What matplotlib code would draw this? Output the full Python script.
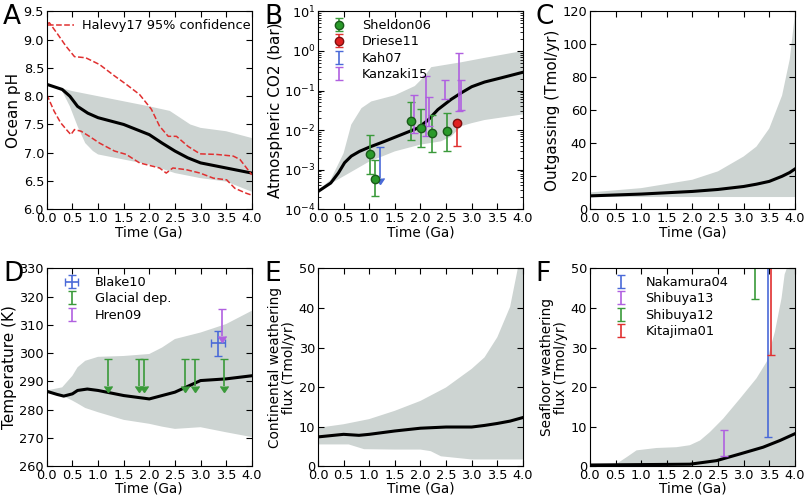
import numpy as np
import matplotlib
matplotlib.use("Agg")
import matplotlib.pyplot as plt

# --- data ---
# A: ocean pH
t_ph = [0.0, 0.3, 0.45, 0.6, 0.8, 1.0, 1.5, 2.0, 2.25, 2.5, 2.75, 3.0, 3.5, 4.0]
ph_med = [8.21, 8.12, 8.0, 7.82, 7.7, 7.62, 7.5, 7.32, 7.17, 7.03, 6.91, 6.82, 6.73, 6.64]
t_ph_up = [0.0, 0.5, 1.0, 1.5, 2.0, 2.4, 2.6, 2.8, 3.0, 3.5, 4.0]
ph_hi = [8.21, 8.09, 8.0, 7.91, 7.82, 7.74, 7.62, 7.5, 7.44, 7.38, 7.26]
t_ph_lo = [0.0, 0.3, 0.45, 0.6, 0.75, 0.9, 1.0, 1.5, 2.0, 2.5, 3.0, 3.5, 4.0]
ph_lo = [8.21, 8.09, 7.82, 7.47, 7.17, 7.03, 6.97, 6.88, 6.79, 6.64, 6.55, 6.49, 6.31]
hal_t_up = [0.0, 0.05, 0.21, 0.37, 0.54, 0.76, 1.03, 1.32, 1.55, 1.81, 2.04, 2.2, 2.37, 2.53,
            2.76, 2.99, 3.31, 3.64, 3.77, 4.0]
hal_up = [9.28, 9.3, 9.1, 8.89, 8.7, 8.68, 8.56, 8.36, 8.21, 8.03, 7.77, 7.47, 7.29, 7.29,
          7.11, 6.98, 6.97, 6.94, 6.88, 6.61]
hal_t_lo = [0.0, 0.14, 0.27, 0.41, 0.47, 0.54, 0.67, 0.83, 1.03, 1.32, 1.55, 1.81, 2.07, 2.2,
            2.33, 2.46, 2.72, 2.99, 3.25, 3.51, 3.67, 3.9, 4.0]
hal_lo = [8.03, 7.74, 7.53, 7.38, 7.32, 7.41, 7.38, 7.29, 7.17, 7.03, 6.97, 6.82, 6.76, 6.73,
          6.64, 6.73, 6.7, 6.64, 6.55, 6.52, 6.37, 6.28, 6.25]

# B: atmospheric CO2
t_co2 = [0.0, 0.25, 0.4, 0.52, 0.65, 0.81, 1.0, 1.3, 1.63, 1.95, 2.15, 2.34, 2.6, 2.8, 3.0,
         3.25, 3.58, 4.0]
co2_med = [2.8e-4, 4.6e-4, 8.3e-4, 1.5e-3, 2.2e-3, 2.9e-3, 3.7e-3, 5.2e-3, 7.7e-3, 1.13e-2,
           1.8e-2, 3.3e-2, 6e-2, 8.8e-2, 1.25e-1, 1.64e-1, 2.1e-1, 2.9e-1]
t_co2_up = [0.0, 0.25, 0.5, 0.65, 0.85, 1.04, 1.5, 1.89, 2.08, 2.21, 2.8, 3.25, 4.0]
co2_hi = [3e-4, 5.6e-4, 2.6e-3, 1.38e-2, 3.6e-2, 5.3e-2, 7.6e-2, 1.3e-1, 2.3e-1, 3.9e-1,
          5.2e-1, 6.7e-1, 1.0]
t_co2_lo = [0.0, 0.5, 1.0, 1.5, 2.0, 2.4, 2.6, 2.8, 3.0, 3.25, 4.0]
co2_lo = [2.9e-4, 6.8e-4, 1.6e-3, 2.9e-3, 4.3e-3, 5.2e-3, 6.9e-3, 1.26e-2, 1.5e-2, 1.8e-2, 2.5e-2]
sh_t = [1.01, 1.12, 1.82, 2.02, 2.22, 2.52]
sh_v = [2.5e-3, 5.9e-4, 1.67e-2, 1.14e-2, 8.5e-3, 9.5e-3]
sh_lo = [8e-4, 2.1e-4, 5.6e-3, 3.7e-3, 2.8e-3, 2.95e-3]
sh_hi = [7.6e-3, 1.75e-3, 5.2e-2, 3.5e-2, 2.45e-2, 2.7e-2]
dr_t = [2.71]
dr_v = [1.52e-2]
dr_lo = [3.9e-3]
dr_hi = [1.7e-2]
kah_t = [1.22]
kah_hi = [3.7e-3]
kah_lo = [6.2e-4]
kz_t = [1.87, 2.1, 2.17, 2.47, 2.76, 2.8]
kz_lo = [8.5e-3, 7.2e-3, 1.25e-2, 6e-2, 3e-2, 3.3e-2]
kz_hi = [7.7e-2, 2.3e-1, 6.8e-2, 1.8e-1, 9e-1, 1.8e-1]

# C: outgassing
t_out = [0.0, 1.0, 2.0, 2.5, 3.0, 3.25, 3.5, 3.75, 3.9, 4.0]
out_med = [8.1, 9.2, 10.8, 12.0, 13.8, 15.2, 16.9, 20.0, 22.3, 24.4]
out_hi = [10.2, 12.8, 17.9, 23.0, 32.0, 38.0, 49.0, 69.0, 91.0, 118.0]
out_lo = [7.4, 7.4, 7.4, 7.4, 7.4, 7.4, 7.4, 7.4, 7.4, 7.4]

# D: temperature
t_temp = [0.0, 0.2, 0.33, 0.5, 0.6, 0.79, 1.0, 1.5, 2.0, 2.5, 3.0, 3.5, 4.0]
temp_med = [286.5, 285.4, 284.8, 285.6, 286.8, 287.3, 286.8, 285.0, 283.8, 286.2, 290.3, 290.9, 292.0]
t_temp_band = [0.0, 0.3, 0.5, 0.6, 0.75, 1.0, 1.5, 2.0, 2.25, 2.5, 3.0, 3.5, 4.0]
temp_hi = [286.8, 287.9, 292.0, 295.0, 297.3, 298.7, 299.0, 299.7, 302.0, 305.0, 307.3, 310.3, 315.0]
temp_lo = [286.2, 285.0, 283.2, 282.2, 280.6, 279.1, 276.4, 275.0, 274.0, 273.2, 273.8, 272.0, 270.3]
bl_t = [3.34]
bl_v = [303.5]
bl_xerr = [0.14]
bl_lo = [299]
bl_hi = [308]
gl_t = [1.2, 1.8, 1.9, 2.7, 2.9, 3.45]
gl_hi = [298, 298, 298, 298, 298, 298]
gl_lo = [288.5, 288.5, 288.5, 288.5, 288.5, 288.5]
hr_t = [3.42]
hr_hi = [315.5]
hr_lo = [306]

# E: continental weathering
t_cw = [0.0, 0.5, 0.8, 1.0, 1.5, 2.0, 2.5, 3.0, 3.25, 3.5, 3.75, 4.0]
cw_med = [7.4, 8.05, 7.8, 8.05, 8.9, 9.6, 9.9, 9.9, 10.3, 10.8, 11.4, 12.3]
t_cw_up = [0.0, 0.5, 1.0, 1.5, 2.0, 2.5, 3.0, 3.25, 3.5, 3.75, 3.9, 4.0]
cw_hi = [9.7, 10.6, 11.9, 14.0, 16.5, 19.9, 24.6, 27.5, 32.6, 40.3, 50.0, 58.0]
t_cw_lo = [0.0, 0.6, 0.9, 1.5, 2.0, 2.2, 2.4, 2.7, 3.0, 4.0]
cw_lo = [5.5, 5.5, 4.3, 4.2, 4.2, 3.8, 2.5, 2.1, 1.7, 1.7]

# F: seafloor weathering
t_sf = [0.0, 0.5, 1.0, 1.5, 1.95, 2.47, 2.93, 3.38, 3.71, 4.0]
sf_med = [0.3, 0.35, 0.4, 0.45, 0.5, 1.4, 3.1, 4.8, 6.5, 8.2]
t_sf_up = [0.0, 0.52, 0.72, 0.91, 1.3, 1.69, 1.95, 2.15, 2.34, 2.6, 2.93, 3.25, 3.45, 3.61,
           3.74, 3.8, 3.9, 4.0]
sf_hi = [0.3, 0.6, 2.3, 4.0, 4.6, 4.8, 5.3, 6.5, 8.6, 12.0, 17.1, 22.2, 26.4, 34.0, 42.5,
         48.5, 52.0, 60.0]
t_sf_lo = [0.0, 4.0]
sf_lo = [0.1, 0.1]
nk_t, nk_lo, nk_hi = [3.48], [7.5], [60.0]
s13_t, s13_lo, s13_hi = [2.62], [2.5], [9.1]
s12_t, s12_lo, s12_hi = [3.22], [42.3], [60.0]
kj_t, kj_lo, kj_hi = [3.53], [28.1], [60.0]

band_c = "#cdd4d2"
green = "#3a9a3a"
red = "#e03030"
blue = "#4a6ad8"
purple = "#b060e0"

plt.rcParams["font.family"] = "DejaVu Sans"

fig = plt.figure(figsize=(8.07, 4.97), dpi=100)
W = 0.254
H = 0.398
lefts = [0.058, 0.394, 0.731]
bots = [0.579, 0.062]
axs = []
for b in bots:
    for l in lefts:
        axs.append(fig.add_axes([l, b, W, H]))


def style(ax):
    ax.set_xlim(0, 4)
    ax.set_xticks(np.arange(0, 4.01, 0.5))
    ax.tick_params(direction="in", top=True, right=True, length=4, labelsize=9.3, pad=2)
    ax.tick_params(which="minor", direction="in", top=True, right=True, length=2)
    ax.set_xlabel("Time (Ga)", fontsize=9.8, labelpad=0)


def band(ax, t_up, hi, t_lo, lo):
    xs = list(t_up) + list(t_lo)[::-1]
    ys = list(hi) + list(lo)[::-1]
    ax.fill(xs, ys, color=band_c, lw=0)


def asym(v, lo, hi):
    v = np.array(v)
    return [v - np.array(lo), np.array(hi) - v]


def mid(lo, hi):
    return list((np.array(lo) + np.array(hi)) / 2.0)


def limit_bars(ax, t, lo, hi, c, lab):
    # upper-limit bars: cap on top, arrow head at bottom
    ax.errorbar(t, hi, yerr=np.array(hi) - np.array(lo), uplims=True, fmt="none",
                color=c, capsize=3, elinewidth=1.2)
    # legend proxy drawn as a plain bar with caps
    ax.errorbar([np.nan], [np.nan], yerr=[1], fmt="none", color=c, capsize=3,
                elinewidth=1.2, label=lab)


leg_kw = dict(frameon=False, fontsize=9.3, borderaxespad=0.2, labelspacing=0.25)

# A
ax = axs[0]
band(ax, t_ph_up, ph_hi, t_ph_lo, ph_lo)
ax.plot(t_ph, ph_med, "k-", lw=2.2)
ax.plot(hal_t_up, hal_up, "--", color=red, lw=1.1, label="Halevy17 95% confidence")
ax.plot(hal_t_lo, hal_lo, "--", color=red, lw=1.1)
ax.set_ylim(6.0, 9.5)
ax.set_ylabel("Ocean pH", fontsize=11, labelpad=2)
style(ax)
ax.legend(loc="upper left", handlelength=2.0, handletextpad=0.6,
          bbox_to_anchor=(-0.03, 1.0), **leg_kw)

# B
ax = axs[1]
band(ax, t_co2_up, co2_hi, t_co2_lo, co2_lo)
ax.plot(t_co2, co2_med, "k-", lw=2.2)
ax.errorbar(sh_t, sh_v, yerr=asym(sh_v, sh_lo, sh_hi), fmt="o", color=green, mfc="#2a9a2a",
            mec="#1a5a1a", ms=6, capsize=3, elinewidth=1.2, label="Sheldon06")
ax.errorbar(dr_t, dr_v, yerr=asym(dr_v, dr_lo, dr_hi), fmt="o", color=red, mfc="#e02020",
            mec="#801010", ms=6, capsize=3, elinewidth=1.2, label="Driese11")
limit_bars(ax, kah_t, kah_lo, kah_hi, blue, "Kah07")
kz_mid = np.sqrt(np.array(kz_lo) * np.array(kz_hi))
ax.errorbar(kz_t, kz_mid, yerr=asym(kz_mid, kz_lo, kz_hi), fmt="none", color=purple,
            capsize=3, elinewidth=1.2, label="Kanzaki15")
ax.set_yscale("log")
ax.set_ylim(1e-4, 10)
ax.set_ylabel("Atmospheric CO2 (bar)", fontsize=11, labelpad=1)
style(ax)
ax.legend(loc="upper left", numpoints=1, handletextpad=0.8, **leg_kw)

# C
ax = axs[2]
band(ax, t_out, out_hi, t_out, out_lo)
ax.plot(t_out, out_med, "k-", lw=2.2)
ax.set_ylim(0, 120)
ax.set_ylabel("Outgassing (Tmol/yr)", fontsize=11, labelpad=2)
style(ax)

# D
ax = axs[3]
band(ax, t_temp_band, temp_hi, t_temp_band, temp_lo)
ax.plot(t_temp, temp_med, "k-", lw=2.2)
ax.errorbar(bl_t, bl_v, xerr=bl_xerr, yerr=asym(bl_v, bl_lo, bl_hi), fmt="none",
            color=blue, capsize=3, elinewidth=1.2, label="Blake10")
limit_bars(ax, gl_t, gl_lo, gl_hi, green, "Glacial dep.")
limit_bars(ax, hr_t, hr_lo, hr_hi, purple, "Hren09")
ax.set_ylim(260, 330)
ax.set_ylabel("Temperature (K)", fontsize=11, labelpad=2)
style(ax)
ax.legend(loc="upper left", handletextpad=0.8, bbox_to_anchor=(0.02, 1.0), **leg_kw)

# E
ax = axs[4]
band(ax, t_cw_up, cw_hi, t_cw_lo, cw_lo)
ax.plot(t_cw, cw_med, "k-", lw=2.2)
ax.set_ylim(0, 50)
ax.set_ylabel("Continental weathering\nflux (Tmol/yr)", fontsize=9.8, linespacing=0.95,
              labelpad=2)
style(ax)

# F
ax = axs[5]
band(ax, t_sf_up, sf_hi, t_sf_lo, sf_lo)
ax.plot(t_sf, sf_med, "k-", lw=2.2)
for tt, lo, hi, c, lab in [(nk_t, nk_lo, nk_hi, blue, "Nakamura04"),
                           (s13_t, s13_lo, s13_hi, purple, "Shibuya13"),
                           (s12_t, s12_lo, s12_hi, green, "Shibuya12"),
                           (kj_t, kj_lo, kj_hi, red, "Kitajima01")]:
    m = mid(lo, hi)
    ax.errorbar(tt, m, yerr=asym(m, lo, hi), fmt="none", color=c, capsize=3,
                elinewidth=1.2, label=lab)
ax.set_ylim(0, 50)
ax.set_ylabel("Seafloor weathering\nflux (Tmol/yr)", fontsize=9.8, linespacing=0.95,
              labelpad=2)
style(ax)
ax.legend(loc="upper left", handletextpad=0.9, bbox_to_anchor=(0.05, 1.0), **leg_kw)

# panel letters
letter_x = [0.004, 0.328, 0.663]
letter_y = [0.992, 0.475]
for i, letter in enumerate("ABCDEF"):
    fig.text(letter_x[i % 3], letter_y[i // 3], letter, fontsize=19, va="top", ha="left")

fig.savefig("out.png", dpi=100)
